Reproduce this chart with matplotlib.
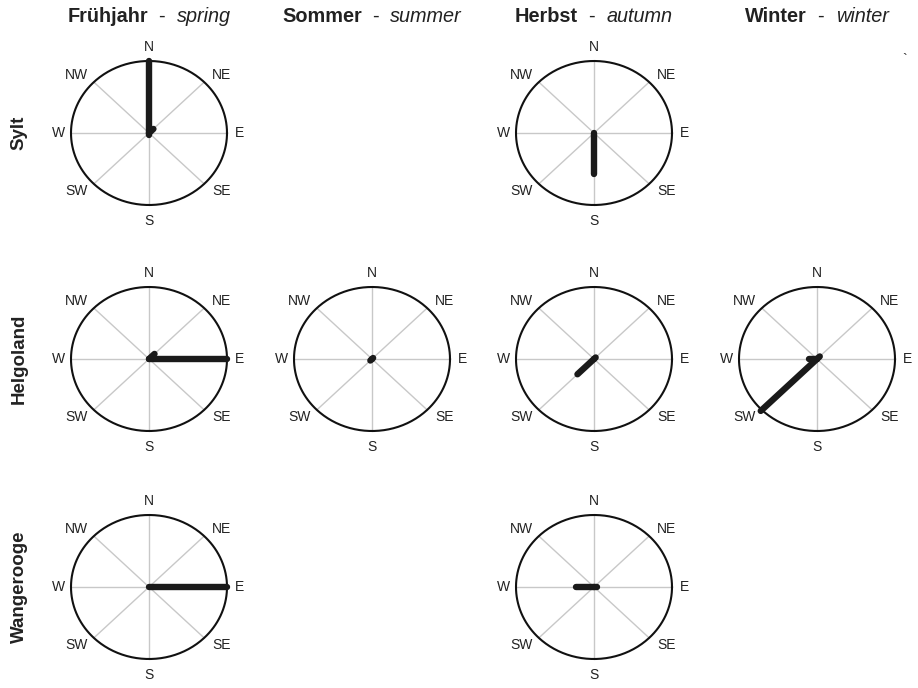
import numpy as np
import matplotlib
matplotlib.use("Agg")
import matplotlib.pyplot as plt

plt.rcParams['font.family'] = ['Liberation Sans', 'DejaVu Sans']

# ---- data ----
directions = ['N', 'NE', 'E', 'SE', 'S', 'SW', 'W', 'NW']
stations = ['Sylt', 'Helgoland', 'Wangerooge']
seasons_de = ['Frühjahr', 'Sommer', 'Herbst', 'Winter']
seasons_en = ['spring', 'summer', 'autumn', 'winter']

# relative lengths (1 = reaches the circle) per direction N, NE, E, SE, S, SW, W, NW
sylt_spring = [1.0, 0.08, 0, 0, 0.03, 0, 0, 0]
sylt_summer = None
sylt_autumn = [0, 0, 0, 0, 0.57, 0, 0, 0]
sylt_winter = None
helgoland_spring = [0, 0.1, 1.0, 0, 0, 0, 0, 0]
helgoland_summer = [0, 0.02, 0, 0, 0, 0.03, 0, 0]
helgoland_autumn = [0, 0.03, 0, 0, 0, 0.3, 0, 0]
helgoland_winter = [0, 0.05, 0, 0, 0, 1.02, 0.1, 0]
wangerooge_spring = [0, 0, 1.0, 0, 0, 0, 0, 0]
wangerooge_summer = None
wangerooge_autumn = [0, 0, 0.04, 0, 0, 0, 0.23, 0]
wangerooge_winter = None

panels = [
    [sylt_spring, sylt_summer, sylt_autumn, sylt_winter],
    [helgoland_spring, helgoland_summer, helgoland_autumn, helgoland_winter],
    [wangerooge_spring, wangerooge_summer, wangerooge_autumn, wangerooge_winter],
]

# ---- layout ----
W, H = 918, 688
fig = plt.figure(figsize=(W / 100, H / 100), dpi=100)
col_cx = [149, 372, 594, 817]
row_cy = [133, 359, 587]
rx, ry = 78, 72
box = 220  # axes size in px

angles = np.deg2rad(np.arange(0, 360, 45))
label_pos = {
    'N': (0, 1.19), 'NE': (0.93, 0.80), 'E': (1.16, 0), 'SE': (0.93, -0.80),
    'S': (0, -1.22), 'SW': (-0.93, -0.80), 'W': (-1.16, 0), 'NW': (-0.93, 0.80),
}

t = np.linspace(0, 2 * np.pi, 400)
for i, cy in enumerate(row_cy):
    for j, cx in enumerate(col_cx):
        vals = panels[i][j]
        if vals is None:
            continue
        ax = fig.add_axes([(cx - box / 2) / W, 1 - (cy + box / 2) / H, box / W, box / H])
        ax.set_xlim(-box / 2 / rx, box / 2 / rx)
        ax.set_ylim(-box / 2 / ry, box / 2 / ry)
        ax.axis('off')
        for a in angles:
            ax.plot([0, np.sin(a)], [0, np.cos(a)], color='#c8c8c8', lw=1.0, zorder=1)
        ax.plot(np.cos(t), np.sin(t), color='#111111', lw=1.5, zorder=2)
        for d in directions:
            lx, ly = label_pos[d]
            ax.text(lx, ly, d, ha='center', va='center', fontsize=10, color='#222222')
        for a, v in zip(angles, vals):
            if v > 0:
                ax.plot([0, v * np.sin(a)], [0, v * np.cos(a)], color='#1a1a1a',
                        lw=4.6, solid_capstyle='round', zorder=3)

# row labels
for name, cy in zip(stations, row_cy):
    fig.text(19 / W, 1 - cy / H, name, rotation=90, ha='center', va='center',
             fontsize=13.5, fontweight='bold', color='#222222')

# column headers: bold German - italic English
renderer = fig.canvas.get_renderer()
hy = 1 - 17 / H
for de, en, cx in zip(seasons_de, seasons_en, col_cx):
    parts = [(de, dict(fontweight='bold')), ('  -  ', dict()), (en, dict(fontstyle='italic'))]
    texts = []
    total = 0
    for s, kw in parts:
        tx = fig.text(0, hy, s, ha='left', va='center', fontsize=14.3, color='#222222', **kw)
        w = tx.get_window_extent(renderer).width
        texts.append((tx, w))
        total += w
    x0 = cx - total / 2
    for tx, w in texts:
        tx.set_x(x0 / W)
        x0 += w

fig.text(905 / W, 1 - 60 / H, '`', ha='center', va='center', fontsize=10, color='#222222')

fig.savefig('out.png', dpi=100, facecolor='white')
